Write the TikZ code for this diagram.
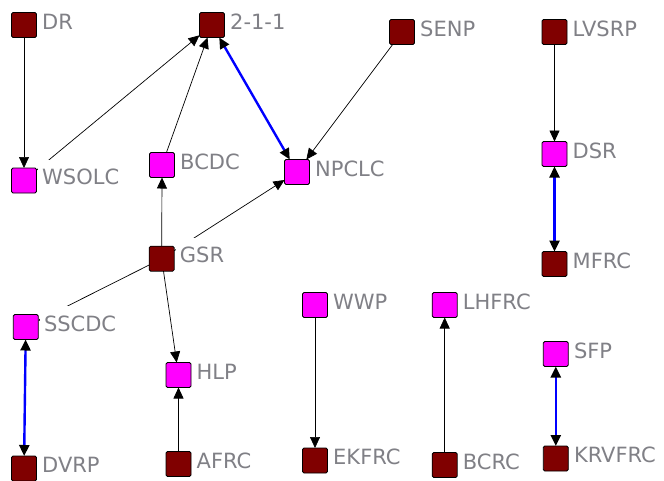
\documentclass[tikz,border=0pt]{standalone}
\usepackage{fontspec}
\setmainfont{DejaVu Sans}
\usetikzlibrary{arrows.meta,backgrounds}
\definecolor{actorred}{RGB}{128,0,0}
\definecolor{actorpink}{RGB}{255,0,255}
\definecolor{taggray}{RGB}{128,128,134}
\definecolor{bondblue}{RGB}{0,0,255}

\begin{document}
\begin{tikzpicture}[x=1pt,y=-1pt,
  actor/.style={draw=black, line width=0.8pt, rounded corners=1.5pt,
    minimum size=25pt, inner sep=0pt, outer sep=0pt},
  redbox/.style={actor, fill=actorred},
  pinkbox/.style={actor, fill=actorpink},
  tag/.style={anchor=base west, fill=white, text=taggray,
    font=\fontsize{21}{21}\selectfont, inner xsep=4pt, inner ysep=3pt,
    text height=22pt, text depth=4pt},
  tip/.tip={Triangle[length=11pt,width=10pt,color=black]},
  tie/.style={-tip, line width=0.7pt, black},
  bond/.style={tip-tip, line width=2.4pt, bondblue}]

\useasboundingbox (0,0) rectangle (664,480);

% actors: name / x / y / style / caption
\foreach \n/\x/\y/\s/\t in {
  DR/24/25/redbox/DR,
  two/212/25/redbox/2-1-1,
  SENP/402/32/redbox/SENP,
  LVSRP/554.5/32/redbox/LVSRP,
  WSOLC/24/180.5/pinkbox/WSOLC,
  BCDC/162/165/pinkbox/BCDC,
  NPCLC/297/172/pinkbox/NPCLC,
  DSR/554.5/154/pinkbox/DSR,
  GSR/161.7/258.7/redbox/GSR,
  MFRC/554.5/264/redbox/MFRC,
  SSCDC/25.8/327/pinkbox/SSCDC,
  WWP/315/305/pinkbox/WWP,
  LHFRC/444.7/305/pinkbox/LHFRC,
  SFP/555.8/354/pinkbox/SFP,
  HLP/178.5/375/pinkbox/HLP,
  DVRP/24/468.5/redbox/DVRP,
  AFRC/178.5/464/redbox/AFRC,
  EKFRC/315/460.5/redbox/EKFRC,
  BCRC/444.7/465/redbox/BCRC,
  KRVFRC/555.8/458.5/redbox/KRVFRC}
{
  \node[tag] (\n-tag) at (\x+14,\y+4) {\t};
  \node[\s] (\n) at (\x,\y) {};
}

% this tie reaches its target from above the caption, so it stays in front
\draw[tie] (SENP) -- (NPCLC);

\begin{scope}[on background layer]
  \fill[white] (0,0) rectangle (664,480);
  % directed ties
  \draw[tie] (DR) -- (WSOLC);
  \draw[tie] (WSOLC) -- (two);
  \draw[tie] (BCDC) -- (two);
  \draw[tie] (GSR) -- (NPCLC);
  \draw[tie] (GSR) -- (BCDC);
  \draw[tie] (GSR) -- (SSCDC);
  \draw[tie] (GSR) -- (HLP);
  \draw[tie] (AFRC) -- (HLP);
  \draw[tie] (WWP) -- (EKFRC);
  \draw[tie] (BCRC) -- (LHFRC);
  \draw[tie] (LVSRP) -- (DSR);
  % reciprocal ties
  \draw[bond] (two) -- (NPCLC);
  \draw[bond] (SSCDC) -- (DVRP);
  \draw[bond] (DSR) -- (MFRC);
  \draw[bond] (SFP) -- (KRVFRC);
\end{scope}
\end{tikzpicture}
\end{document}
